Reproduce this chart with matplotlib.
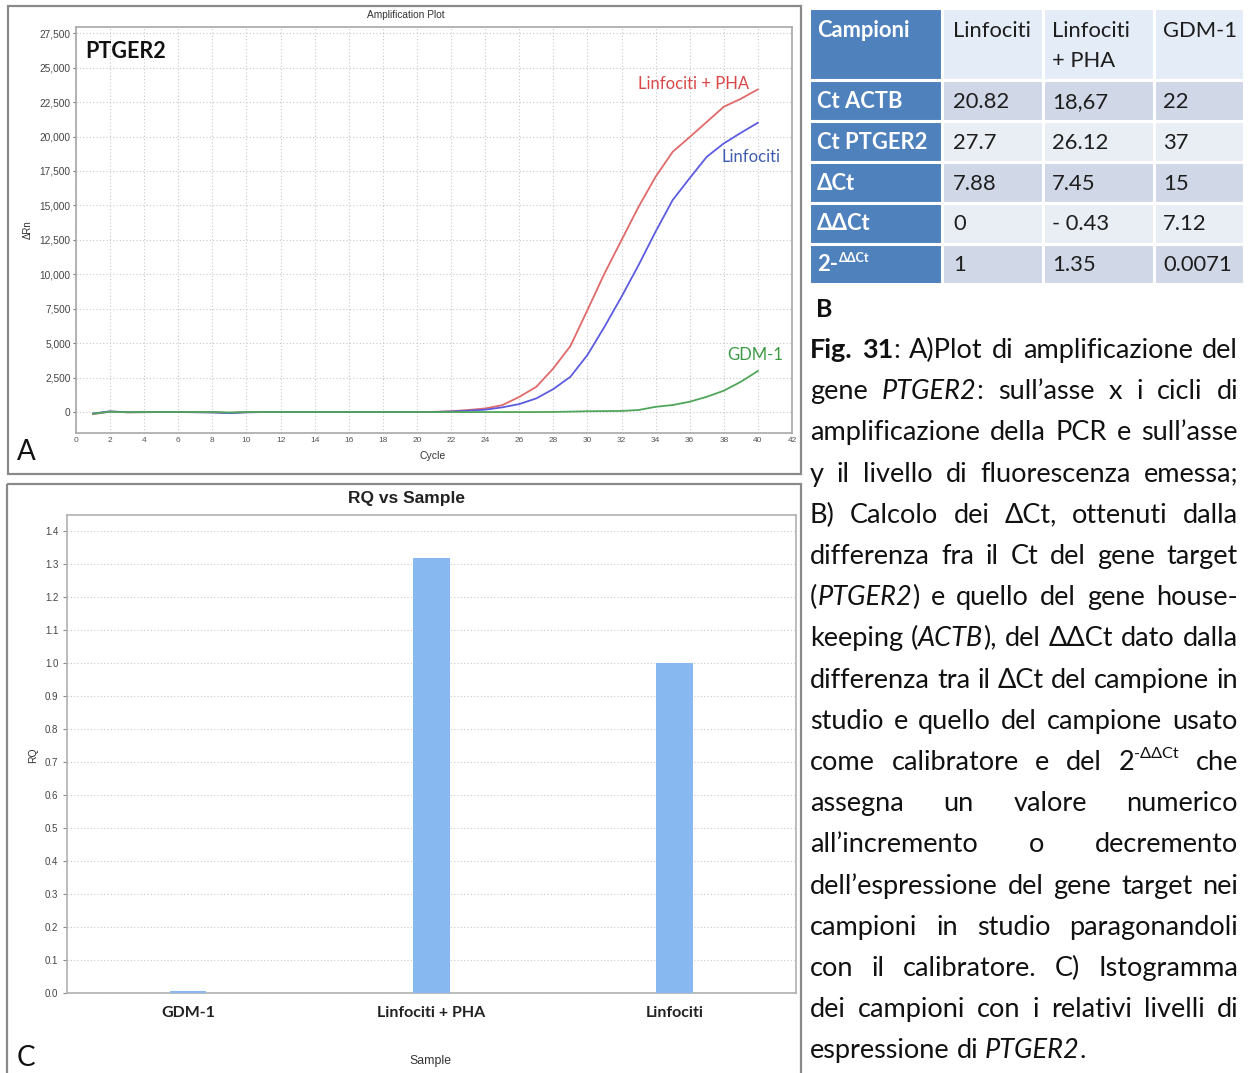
import re
import matplotlib
matplotlib.use("Agg")
import matplotlib.pyplot as plt
from matplotlib.patches import Rectangle

# ------------------------------------------------------------------ data
cycles = [1, 2, 3, 4, 5, 6, 7, 8, 9, 10, 11, 12, 13, 14, 15, 16, 17, 18, 19, 20,
          21, 22, 23, 24, 25, 26, 27, 28, 29, 30, 31, 32, 33, 34, 35, 36, 37, 38, 39, 40]
rn_pha = [-150, 40, -20, -10, 0, 0, -10, -20, -60, -10, 0, 0, 0, 0, 0, 0, 0, 0, 0, 5,
          15, 60, 150, 260, 500, 1100, 1830, 3170, 4790, 7400, 10060, 12480, 14900, 17080,
          18890, 19960, 21060, 22160, 22740, 23420]
rn_linf = [-100, 50, -10, -5, 0, 0, -10, -30, -80, -20, 0, 0, 0, 0, 0, 0, 0, 0, 0, 0,
           5, 40, 100, 170, 340, 580, 990, 1670, 2560, 4140, 6190, 8370, 10670, 13100,
           15390, 16980, 18530, 19500, 20270, 21000]
rn_gdm = [-120, 20, -10, 0, 0, 0, 0, 0, -30, 0, 0, 0, 0, 0, 0, 0, 0, 0, 0, 0,
          0, 0, 0, 0, 0, 0, 0, 10, 30, 60, 70, 80, 150, 380,
          510, 750, 1110, 1550, 2200, 2980]
amp_yticks = [0, 2500, 5000, 7500, 10000, 12500, 15000, 17500, 20000, 22500, 25000, 27500]
amp_xticks = [0, 2, 4, 6, 8, 10, 12, 14, 16, 18, 20, 22, 24, 26, 28, 30, 32, 34, 36, 38, 40, 42]
series_labels = ["Linfociti + PHA", "Linfociti", "GDM-1"]

rq_samples = ["GDM-1", "Linfociti + PHA", "Linfociti"]
rq_values = [0.0071, 1.32, 1.0]
rq_yticks = [0.0, 0.1, 0.2, 0.3, 0.4, 0.5, 0.6, 0.7, 0.8, 0.9, 1.0, 1.1, 1.2, 1.3, 1.4]

table_header = ["Campioni", "Linfociti", "Linfociti\n+ PHA", "GDM-1"]
table_rows = ["Ct ACTB", "Ct PTGER2", "ΔCt", "ΔΔCt", "2-"]
table_vals = [["20.82", "18,67", "22"],
              ["27.7", "26.12", "37"],
              ["7.88", "7.45", "15"],
              ["0", "- 0.43", "7.12"],
              ["1", "1.35", "0.0071"]]

caption_lines = [
    "{b:Fig.} {b:31}: A)Plot di amplificazione del",
    "gene {i:PTGER2}: sull’asse x i cicli di",
    "amplificazione della PCR e sull’asse",
    "y il livello di fluorescenza emessa;",
    "B) Calcolo dei ΔCt, ottenuti dalla",
    "differenza fra il Ct del gene target",
    "({i:PTGER2}) e quello del gene house-",
    "keeping ({i:ACTB}), del ΔΔCt dato dalla",
    "differenza tra il ΔCt del campione in",
    "studio e quello del campione usato",
    "come calibratore e del 2{s:-ΔΔCt} che",
    "assegna un valore numerico",
    "all’incremento o decremento",
    "dell’espressione del gene target nei",
    "campioni in studio paragonandoli",
    "con il calibratore. C) Istogramma",
    "dei campioni con i relativi livelli di",
    "espressione di {i:PTGER2}.",
]

# ------------------------------------------------------------------ style
W, H = 1255, 1073
CAL = ["Lato", "DejaVu Sans"]
ARI = ["Liberation Sans", "DejaVu Sans"]
plt.rcParams["font.family"] = ARI

fig = plt.figure(figsize=(W / 100, H / 100), dpi=100)

def px_axes(l, t, r, b):
    return fig.add_axes([l / W, 1 - b / H, (r - l) / W, (b - t) / H])

# ------------------------------------------------------------------ panel A
axA = px_axes(76, 27, 792, 433)
line_cols = ["#e06a6a", "#5c5ce0", "#4fa65a"]
for vals, c in zip([rn_pha, rn_linf, rn_gdm], line_cols):
    axA.plot(cycles, vals, color=c, lw=1.3)
axA.set_xlim(0, 42)
axA.set_ylim(-1520, 27950)
axA.set_xticks(amp_xticks)
axA.set_yticks(amp_yticks)
axA.set_yticklabels([f"{v:,}" for v in amp_yticks])
axA.grid(True, ls=(0, (1, 2)), color="#c8c8c8", lw=0.8)
for s in axA.spines.values():
    s.set_color("#a8a8a8")
    s.set_linewidth(1.2)
axA.tick_params(axis="y", labelsize=7.3, length=2, width=0.8, color="#777777",
                labelcolor="#444444", pad=2)
axA.tick_params(axis="x", labelsize=6, length=0, labelcolor="#555555", pad=3)

# ------------------------------------------------------------------ panel C
axC = px_axes(66.7, 515, 796, 993.3)
xs = list(range(len(rq_samples)))
axC.bar(xs, rq_values, width=0.15, color="#88b8f0", zorder=3)
axC.set_xlim(-0.5, 2.5)
axC.set_ylim(0, 1.45)
axC.set_yticks(rq_yticks)
axC.set_yticklabels([f"{v:.1f}" for v in rq_yticks])
axC.set_xticks(xs)
axC.set_xticklabels(rq_samples, fontsize=11.5, fontweight="bold", family=CAL, color="#222222")
axC.yaxis.grid(True, ls=(0, (1, 2)), color="#c8c8c8", lw=0.8)
for s in axC.spines.values():
    s.set_color("#b0b0b0")
    s.set_linewidth(1.2)
axC.tick_params(axis="y", labelsize=7, length=3, width=0.8, color="#888888",
                labelcolor="#444444", pad=3)
axC.tick_params(axis="x", length=0, pad=9)

# ------------------------------------------------------------------ overlay (pixel coords)
bg = fig.add_axes([0, 0, 1, 1])
bg.set_xlim(0, W)
bg.set_ylim(H, 0)
bg.axis("off")
bg.set_zorder(10)
bg.patch.set_visible(False)
renderer = fig.canvas.get_renderer()

frame_col = "#8a8a8a"
bg.add_patch(Rectangle((8, 6), 793, 468, fill=False, ec=frame_col, lw=1.6))
bg.add_patch(Rectangle((7, 484), 794, 620, fill=False, ec=frame_col, lw=1.6))

bg.text(406, 15, "Amplification Plot", fontsize=7.3, ha="center", va="center", color="#333333")
bg.text(433, 456, "Cycle", fontsize=7.5, ha="center", va="center", color="#333333")
bg.text(28, 230, "ΔRn", fontsize=7, ha="center", va="center", rotation=90, color="#333333")
bg.text(85, 52, "PTGER2", fontsize=15.5, fontweight="bold", family=CAL, ha="left", va="center",
        color="#111111")
bg.text(17, 452, "A", fontsize=20, family=CAL, ha="left", va="center", color="#111111")
lab_cols = ["#d84848", "#3f5cb0", "#3a9a44"]
lab_pos = [(694, 84), (751, 157), (755, 355)]
for t, c, (x, y) in zip(series_labels, lab_cols, lab_pos):
    bg.text(x, y, t, fontsize=12, family=CAL, color=c, ha="center", va="center")

bg.text(406, 498, "RQ vs Sample", fontsize=12.5, fontweight="bold", ha="center", va="center",
        color="#222222")
bg.text(33, 755, "RQ", fontsize=7.5, rotation=90, ha="center", va="center", color="#333333")
bg.text(430, 1061, "Sample", fontsize=8.8, ha="center", va="center", color="#333333")
bg.text(17, 1058, "C", fontsize=20, family=CAL, ha="left", va="center", color="#111111")

# ------------------------------------------------------------------ panel B (table)
col_edges = [809, 942, 1042.5, 1153.5, 1244]
row_edges = [8, 79.5, 120.5, 161.5, 202.5, 243.5, 284]
dark = "#4f81bd"
band = ["#d0d8e8", "#e9edf4"]
head_bg = "#e4ecf7"
for r in range(len(row_edges) - 1):
    for c in range(len(col_edges) - 1):
        if c == 0:
            fc = dark
        elif r == 0:
            fc = head_bg
        else:
            fc = band[(r - 1) % 2]
        bg.add_patch(Rectangle((col_edges[c], row_edges[r]), col_edges[c + 1] - col_edges[c],
                               row_edges[r + 1] - row_edges[r], fc=fc, ec="white", lw=2.2))
text_x = [817, 953, 1052, 1163]
FS_T = 15.8
for c, h in enumerate(table_header):
    for k, part in enumerate(h.split("\n")):
        bg.text(text_x[c], 37 + k * 30, part, fontsize=FS_T, family=CAL,
                fontweight="bold" if c == 0 else "normal",
                color="white" if c == 0 else "#1e1e1e", ha="left", va="baseline")
row_base = [108.3, 149, 189.8, 230.3, 271.3]
for r, lab in enumerate(table_rows):
    t = bg.text(text_x[0], row_base[r], lab, fontsize=FS_T, family=CAL, fontweight="bold",
                color="white", ha="left", va="baseline")
    if lab == "2-":
        wpx = t.get_window_extent(renderer).width
        bg.text(text_x[0] + wpx + 1, row_base[r] - 9, "ΔΔCt", fontsize=9, family=CAL,
                fontweight="bold", color="white", ha="left", va="baseline")
    for c, v in enumerate(table_vals[r]):
        bg.text(text_x[c + 1], row_base[r], v, fontsize=FS_T, family=CAL, color="#1e1e1e",
                ha="left", va="baseline")
bg.text(816, 317, "B", fontsize=18, family=CAL, fontweight="bold", color="#111111",
        ha="left", va="baseline")

# ------------------------------------------------------------------ caption (justified)
def parse(line):
    words = []
    for w in line.split(" "):
        segs, pos = [], 0
        for m in re.finditer(r"\{(\w):([^}]*)\}", w):
            if m.start() > pos:
                segs.append((w[pos:m.start()], "n"))
            segs.append((m.group(2), m.group(1)))
            pos = m.end()
        if pos < len(w):
            segs.append((w[pos:], "n"))
        words.append(segs)
    return words

def seg_props(style, fs):
    p = dict(family=CAL, fontsize=fs, color="#111111")
    if style == "b":
        p["fontweight"] = "bold"
    if style == "i":
        p["fontstyle"] = "italic"
    if style == "s":
        p["fontsize"] = fs * 0.6
    return p

def measure(txt, props):
    t = bg.text(0, 0, txt, **props)
    w = t.get_window_extent(renderer).width
    t.remove()
    return w

def word_widths(words, fs):
    return [[measure(s, seg_props(st, fs)) for s, st in wd] for wd in words]

parsed = [parse(l) for l in caption_lines]
X0, X1 = 810, 1238
fs0 = 10.0
sp0 = measure("x x", seg_props("n", fs0)) - measure("xx", seg_props("n", fs0))
nat = []
for words in parsed[:-1]:
    ww = word_widths(words, fs0)
    nat.append(sum(sum(w) for w in ww) + sp0 * (len(words) - 1))
fs = min(fs0 * (X1 - X0) / max(nat), 21.0)
sp = sp0 * fs / fs0

base0, step = 358, 41.2
for i, words in enumerate(parsed):
    ww = word_widths(words, fs)
    tot = sum(sum(w) for w in ww)
    if i < len(parsed) - 1 and len(words) > 1:
        gap = (X1 - X0 - tot) / (len(words) - 1)
    else:
        gap = sp
    x = X0
    y = base0 + i * step
    for wd, wl in zip(words, ww):
        for (s, st), w in zip(wd, wl):
            yy = y - fs * 0.62 if st == "s" else y
            bg.text(x, yy, s, ha="left", va="baseline", **seg_props(st, fs))
            x += w
        x += gap

fig.savefig("out.png", dpi=100)
